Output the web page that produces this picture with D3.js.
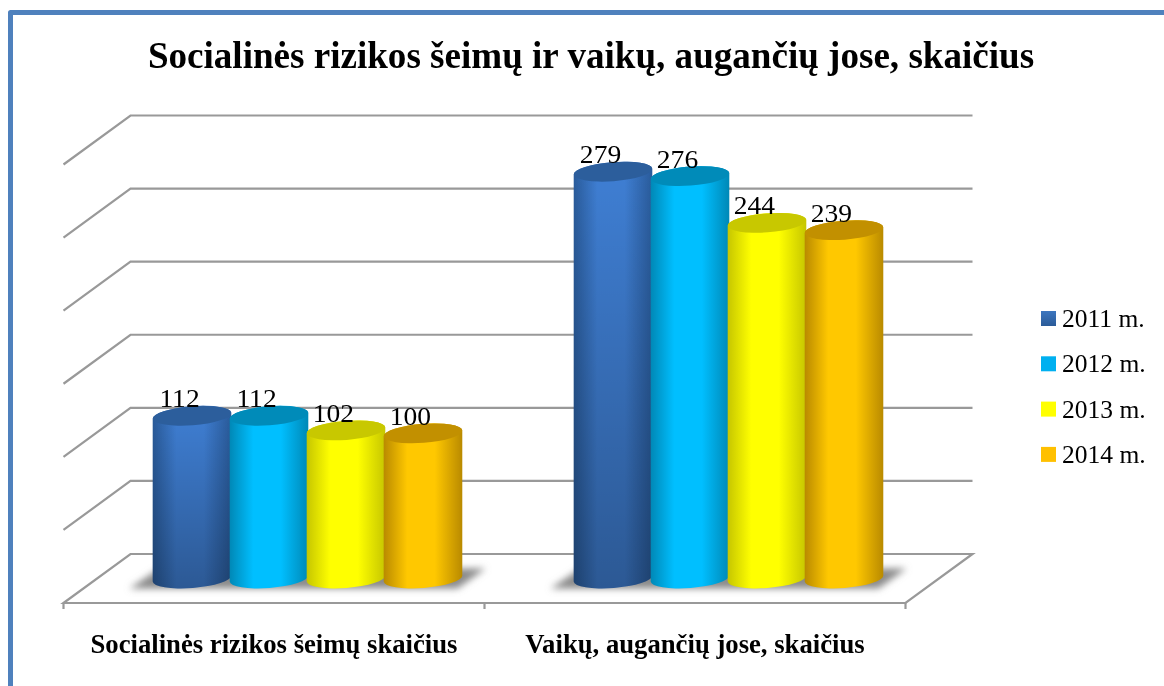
<!DOCTYPE html>
<html>
<head>
<meta charset="utf-8">
<script src="https://cdn.jsdelivr.net/npm/d3@7"></script>
<style>
html, body { margin: 0; padding: 0; background: #fff; overflow: hidden; }
text { font-family: "Liberation Serif", serif; fill: #000; }
</style>
</head>
<body>
<div id="chart"></div>
<script>
const width = 1164,
	height = 686;

const titleText = 'Socialinės rizikos šeimų ir vaikų, augančių jose, skaičius';
const categories = ['Socialinės rizikos šeimų skaičius', 'Vaikų, augančių jose, skaičius'];
const years = ['2011 m.', '2012 m.', '2013 m.', '2014 m.'];
const values2011 = [112, 279];
const values2012 = [112, 276];
const values2013 = [102, 244];
const values2014 = [100, 239];
const gridTicks = [0, 50, 100, 150, 200, 250, 300];

const allValues = [values2011, values2012, values2013, values2014];
const edgeColors = ['#2a5c9c', '#0088b6', '#c6c600', '#b98a00'];
const midColors = ['#3f7fd4', '#00bfff', '#ffff00', '#ffc800'];
const topColors = ['#2c5e9c', '#008bb9', '#c8c800', '#c29000'];
const swatchColors = ['#3a70b6', '#00b0f0', '#ffff00', '#ffc000'];

// depth of the 3d floor, measured from the plane the bars stand on
const depthX = 33.5, depthBack = 25.5, depthFront = 23.5;
const tilt = -4.4, ry = 9.5;

var svg = d3.select('#chart').append('svg')
	.attr('width', width)
	.attr('height', height)
	.style('display', 'block')
	.style('filter', 'blur(0.5px)');

var defs = svg.append('defs');

years.forEach(function(d, i) {
	var grad = defs.append('linearGradient').attr('id', 'bar' + i);
	[[0, edgeColors[i]], [0.3, midColors[i]], [0.65, midColors[i]], [1, edgeColors[i]]].forEach(function(s) {
		grad.append('stop').attr('offset', s[0]).attr('stop-color', s[1]);
	});
});

var fade = defs.append('linearGradient').attr('id', 'fade')
	.attr('x1', 0).attr('y1', 0).attr('x2', 0).attr('y2', 1);
fade.append('stop').attr('offset', 0).attr('stop-color', '#000').attr('stop-opacity', 0);
fade.append('stop').attr('offset', 1).attr('stop-color', '#000').attr('stop-opacity', 0.3);

var swatchFade = defs.append('linearGradient').attr('id', 'swatch0')
	.attr('x1', 0).attr('y1', 0).attr('x2', 0).attr('y2', 1);
swatchFade.append('stop').attr('offset', 0).attr('stop-color', '#3d76bf');
swatchFade.append('stop').attr('offset', 1).attr('stop-color', '#2b5b98');

defs.append('filter').attr('id', 'soft')
	.attr('x', '-10%').attr('y', '-50%').attr('width', '120%').attr('height', '200%')
	.append('feGaussianBlur').attr('stdDeviation', 3.5);

const x0 = d3.scaleBand().domain(categories).range([97, 939]);
const x1 = d3.scaleBand().domain(years).range([0, x0.bandwidth()]).paddingOuter(0.734);
const y = d3.scaleLinear().domain([0, 300]).range([579.5, 141]);

// page frame, cut off on the right and bottom
svg.append('path')
	.attr('d', 'M10.5,' + (height + 5) + 'V12.5H' + (width + 5))
	.attr('fill', 'none')
	.attr('stroke', '#4f81bd')
	.attr('stroke-width', 5)
	.attr('stroke-linejoin', 'round');

// floor
var xLeft = x0.range()[0], xRight = x0.range()[1];
svg.append('path')
	.attr('d', 'M' + (xLeft - depthX) + ',' + (y(0) + depthFront)
		+ 'L' + (xLeft + depthX) + ',' + (y(0) - depthBack)
		+ 'H' + (xRight + depthX)
		+ 'L' + (xRight - depthX) + ',' + (y(0) + depthFront) + 'Z')
	.attr('fill', '#fff')
	.attr('stroke', '#999')
	.attr('stroke-width', 2.2);

// wall gridlines
var grid = svg.append('g').attr('fill', 'none')
	.attr('stroke', '#999').attr('stroke-width', 2.2);
grid.selectAll('path').data(gridTicks.slice(1)).enter().append('path')
	.attr('d', d => 'M' + (xLeft - depthX) + ',' + (y(d) + depthFront)
		+ 'L' + (xLeft + depthX) + ',' + (y(d) - depthBack)
		+ 'H' + (xRight + depthX));

// category ticks on the front edge
var tickXs = [xLeft - depthX].concat(categories.map(c => x0(c) + x0.bandwidth() - depthX));
grid.selectAll('line').data(tickXs).enter().append('line')
	.attr('x1', d => d).attr('x2', d => d)
	.attr('y1', y(0) + depthFront).attr('y2', y(0) + depthFront + 6);

// shadows on the floor
svg.append('g').selectAll('path').data(categories).enter().append('path')
	.attr('d', function(c) {
		var a = x0(c) + x1(years[0]), b = x0(c) + x1(years[3]) + x1.bandwidth();
		return 'M' + (a - 24) + ',' + (y(0) + 9)
			+ 'L' + (a + 6) + ',' + (y(0) - 11)
			+ 'H' + (b + 24)
			+ 'L' + (b - 4) + ',' + (y(0) + 9) + 'Z';
	})
	.attr('fill', '#8a8a8a')
	.attr('filter', 'url(#soft)');

// cylinders
function tipDy(rx) { return rx * Math.sin(tilt * Math.PI / 180); }

categories.forEach(function(c, ci) {
	var group = svg.append('g').attr('transform', 'translate(' + x0(c) + ',0)');
	years.forEach(function(s, si) {
		var v = allValues[si][ci];
		var rx = x1.bandwidth() / 2 + 0.8;
		var cx = x1(s) + x1.bandwidth() / 2;
		var dy = tipDy(rx);
		var base = y(0) - 1;
		var body = 'M' + (cx - rx) + ',' + (y(v) - dy)
			+ 'L' + (cx - rx) + ',' + (base - dy)
			+ 'A' + rx + ',' + ry + ' ' + tilt + ' 0 0 ' + (cx + rx) + ',' + (base + dy)
			+ 'L' + (cx + rx) + ',' + (y(v) + dy)
			+ 'A' + rx + ',' + ry + ' ' + tilt + ' 0 0 ' + (cx - rx) + ',' + (y(v) - dy) + 'Z';
		group.append('path').attr('d', body).attr('fill', 'url(#bar' + si + ')');
		if (si == 0) {
			group.append('path').attr('d', body).attr('fill', 'url(#fade)');
		}
		group.append('ellipse')
			.attr('cx', cx).attr('cy', y(v))
			.attr('rx', rx).attr('ry', ry)
			.attr('transform', 'rotate(' + tilt + ' ' + cx + ' ' + y(v) + ')')
			.attr('fill', topColors[si]);
	});
});

// value labels go over all the bars, the source picture is a bit stretched sideways
categories.forEach(function(c, ci) {
	years.forEach(function(s, si) {
		var v = allValues[si][ci];
		svg.append('text')
			.attr('transform', 'translate(' + (x0(c) + x1(s) + x1.bandwidth() / 2 - 12.5) + ',' + (y(v) - 8.5) + ') scale(1.08,1)')
			.attr('text-anchor', 'middle')
			.style('font-size', '25.5px')
			.text(v);
	});
});

svg.append('text')
	.attr('x', 591)
	.attr('y', 68)
	.attr('text-anchor', 'middle')
	.style('font-size', '37.1px')
	.style('font-weight', 'bold')
	.text(titleText);

svg.selectAll('text.cat').data(categories).enter().append('text')
	.attr('class', 'cat')
	.attr('x', d => x0(d) + x0.bandwidth() / 2 - depthX)
	.attr('y', 653)
	.attr('text-anchor', 'middle')
	.style('font-size', '26.7px')
	.style('font-weight', 'bold')
	.text(d => d);

// legend
var legend = svg.append('g').selectAll('g').data(years).enter().append('g')
	.attr('transform', (d, i) => 'translate(1041,' + (311 + i * 45.3) + ')');
legend.append('rect')
	.attr('width', 15).attr('height', 15)
	.attr('fill', (d, i) => i == 0 ? 'url(#swatch0)' : swatchColors[i]);
legend.append('text')
	.attr('x', 21).attr('y', 16)
	.style('font-size', '25.5px')
	.text(d => d);
</script>
</body>
</html>
